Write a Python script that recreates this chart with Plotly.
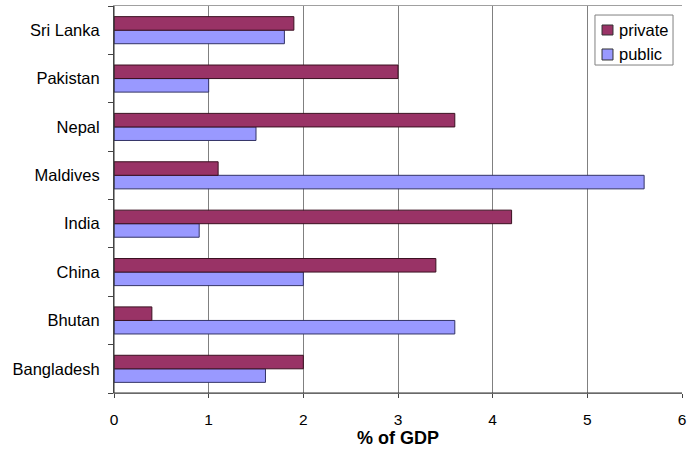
import plotly.graph_objects as go

countries = ["Bangladesh", "Bhutan", "China", "India", "Maldives", "Nepal", "Pakistan", "Sri Lanka"]
private = [2.0, 0.4, 3.4, 4.2, 1.1, 3.6, 3.0, 1.9]
public = [1.6, 3.6, 2.0, 0.9, 5.6, 1.5, 1.0, 1.8]
x_ticks = [0, 1, 2, 3, 4, 5, 6]
series_names = ["private", "public"]
series_colors = ["#993366", "#9999FF"]

FONT = "Liberation Sans, Arial, sans-serif"

fig = go.Figure()
fig.add_trace(go.Bar(y=countries, x=public, orientation="h", name=series_names[1],
                     marker=dict(color=series_colors[1], line=dict(color="#333366", width=1))))
fig.add_trace(go.Bar(y=countries, x=private, orientation="h", name=series_names[0],
                     marker=dict(color=series_colors[0], line=dict(color="#3a1020", width=1))))

fig.update_layout(
    width=690, height=449,
    margin=dict(l=114, r=8, t=6, b=56),
    barmode="group", bargap=0.44, bargroupgap=0,
    paper_bgcolor="white", plot_bgcolor="white",
    font=dict(family=FONT, size=15.5, color="black"),
    showlegend=False,
    xaxis=dict(range=[0, 6], tickvals=x_ticks, showgrid=True, gridcolor="#808080", gridwidth=1,
               showline=True, linecolor="#a0a0a0", linewidth=1, mirror=True,
               ticks="outside", ticklen=4, tickcolor="#444444", automargin=False,
               ticklabelstandoff=8, tickfont=dict(size=15.5),
               title=dict(text="<b>% of GDP</b>", font=dict(size=18), standoff=4),
               zeroline=False),
    yaxis=dict(type="category", categoryorder="array", categoryarray=countries,
               tickson="boundaries", ticks="outside", ticklen=5, tickcolor="#444444",
               showline=True, linecolor="#444444", linewidth=1, mirror=False,
               showgrid=False, ticklabelstandoff=10, automargin=False,
               tickfont=dict(size=16.5)),
)
fig.add_shape(type="line", xref="x", yref="paper", x0=0, x1=0, y0=0, y1=1,
              line=dict(color="#333333", width=1))
fig.add_shape(type="line", xref="paper", yref="y domain", x0=0, x1=1, y0=0, y1=0,
              line=dict(color="#333333", width=1))

# custom legend box (matching the compact Excel-style legend)
fig.add_shape(type="rect", xref="paper", yref="paper", x0=0.8468, x1=0.9842, y0=0.8475, y1=0.9767,
              line=dict(color="#808080", width=1), fillcolor="white", layer="above")
leg_rows = [(0.9509, 0.9251, 0.938), (0.8889, 0.8605, 0.8747)]
for name, color, (ya, yb, yt) in zip(series_names, series_colors, leg_rows):
    fig.add_shape(type="rect", xref="paper", yref="paper", x0=0.8592, x1=0.8785, y0=yb, y1=ya,
                  line=dict(color="#333333", width=1), fillcolor=color, layer="above")
    fig.add_annotation(xref="paper", yref="paper", x=0.8856, y=yt, text=name, showarrow=False,
                       xanchor="left", yanchor="middle", font=dict(size=16.5, family=FONT))

fig.write_html("out.html")
